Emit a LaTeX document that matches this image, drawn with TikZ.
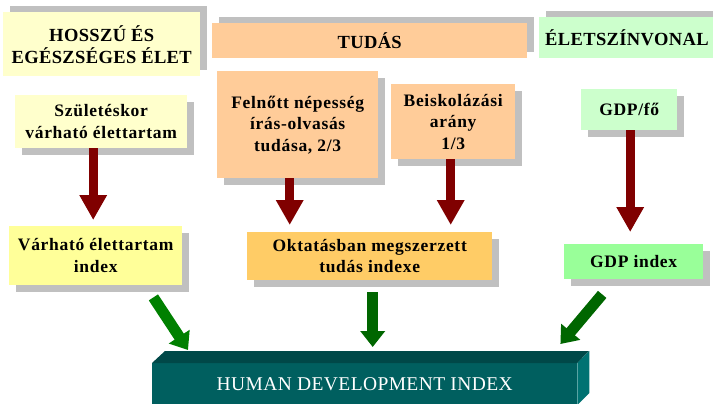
\documentclass[tikz,border=0pt]{standalone}
\usepackage{fontspec}
\setmainfont{Liberation Serif}
\newfontfamily\spaced[LetterSpace=4]{Liberation Serif}
\newfontfamily\hdrfont[LetterSpace=2]{Liberation Serif}
\usetikzlibrary{shadows,arrows.meta}
\definecolor{shgray}{HTML}{C0C0C0}
\definecolor{lyellow}{HTML}{FFFFCC}
\definecolor{myellow}{HTML}{FFFF99}
\definecolor{peach}{HTML}{FFCC99}
\definecolor{morange}{HTML}{FFCC66}
\definecolor{lgreen}{HTML}{CCFFCC}
\definecolor{mgreen}{HTML}{99FF99}
\definecolor{dred}{HTML}{800000}
\definecolor{ggreenA}{HTML}{008000}
\definecolor{ggreenB}{HTML}{006600}
\definecolor{hdifront}{HTML}{005F5F}
\definecolor{hditop}{HTML}{004848}
\definecolor{hdiside}{HTML}{007272}
\begin{document}
\begin{tikzpicture}[x=1pt,y=-1pt,
  box/.style={draw=none, inner sep=0pt, anchor=north west, align=center,
    font=\spaced\bfseries\fontsize{17.5}{21.5}\selectfont},
  hdr/.style={font=\hdrfont\bfseries\fontsize{18.5}{22}\selectfont},
  shdown/.style={drop shadow={shadow xshift=7pt, shadow yshift=-7pt, fill=shgray, opacity=1}},
  shup/.style={drop shadow={shadow xshift=7pt, shadow yshift=6pt, fill=shgray, opacity=1}},
  redarrow/.style={draw=dred, line width=9pt, -{Triangle[width=26pt,length=25pt]}},
  greenarrow/.style={line width=11pt, -{Triangle[width=24pt,length=16pt]}},
]
\useasboundingbox (0,0) rectangle (713,404);

% header boxes
\node[box, hdr, fill=lyellow, shup, minimum width=197pt, minimum height=64pt] (hoss) at (3,12) {HOSSZÚ ÉS\\EGÉSZSÉGES ÉLET};
\node[box, hdr, fill=peach, shup, minimum width=315pt, minimum height=35pt] (tudas) at (212,23) {TUDÁS};
\node[box, hdr, fill=lgreen, shup, text width=190pt, inner xsep=6pt, align=left, minimum height=41pt] (elet) at (539,17) {ÉLETSZÍNVONAL};

% second row
\node[box, fill=lyellow, shdown, minimum width=172pt, minimum height=53pt] (szul) at (15,95) {Születéskor\\várható élettartam};
\node[box, fill=peach, shdown, minimum width=161pt, minimum height=107pt] (feln) at (217,71) {Felnőtt népesség\\írás-olvasás\\tudása, 2/3};
\node[box, fill=peach, shdown, minimum width=124pt, minimum height=75pt] (beisk) at (391,84) {Beiskolázási\\arány\\1/3};
\node[box, fill=lgreen, shdown, minimum width=96pt, minimum height=41pt] (gdpfo) at (581,89) {GDP/fő};

% index row
\node[box, fill=myellow, shdown, minimum width=173pt, minimum height=59pt] (varh) at (9,226) {Várható élettartam\\index};
\node[box, fill=morange, shdown, minimum width=245pt, minimum height=48pt] (okt) at (247,232) {Oktatásban megszerzett\\tudás indexe};
\node[box, fill=mgreen, shdown, minimum width=139pt, minimum height=35pt] (gdpi) at (564,244) {GDP index};

% HDI block
\node[box, fill=hdifront, text=white, minimum width=425pt, minimum height=41pt,
  font=\hdrfont\fontsize{19.5}{22}\selectfont] (hdi) at (152,363) {HUMAN DEVELOPMENT INDEX};
\fill[hditop] (hdi.north west) -- ++(13,-12) -- ++(424,0) -- (hdi.north east) -- cycle;
\fill[hdiside] (hdi.north east) -- ++(12,-12) -- ++(0,42) -- ++(-12,12) -- cycle;

% red arrows
\draw[redarrow] ([xshift=-8pt]szul.south) -- ([xshift=-2.5pt,yshift=6pt]varh.north);
\draw[redarrow] ([xshift=-8pt]feln.south) -- ([xshift=-80pt,yshift=7pt]okt.north);
\draw[redarrow] ([xshift=-2.5pt]beisk.south) -- ([xshift=81pt,yshift=7pt]okt.north);
\draw[redarrow] ([xshift=1pt]gdpfo.south) -- ([xshift=-3.5pt,yshift=12pt]gdpi.north);

% green arrows
\draw[greenarrow, draw=ggreenA] ([xshift=-29pt,yshift=-12pt]varh.south east) -- ([xshift=36pt,yshift=13pt]hdi.north west);
\draw[greenarrow, draw=ggreenB] ([xshift=3pt,yshift=-12pt]okt.south) -- ([xshift=8pt,yshift=16pt]hdi.north);
\draw[greenarrow, draw=ggreenB] ([xshift=-31.5pt,yshift=-15pt]gdpi.south) -- ([xshift=-17pt,yshift=19pt]hdi.north east);
\end{tikzpicture}
\end{document}
